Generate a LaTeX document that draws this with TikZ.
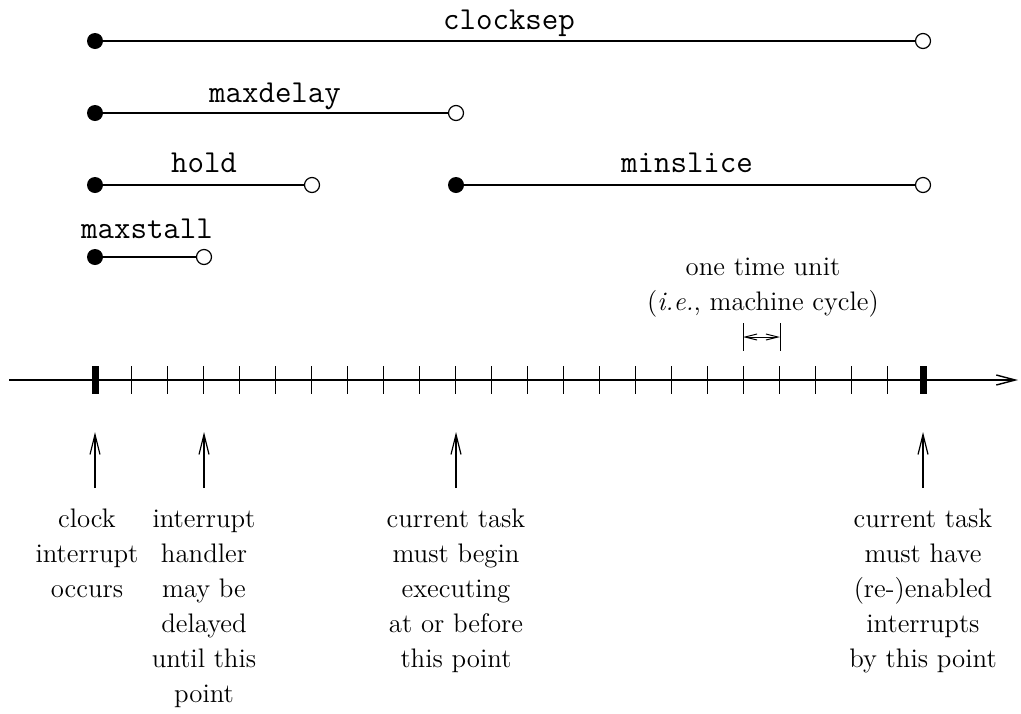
\documentclass[tikz,border=0pt]{standalone}
\usetikzlibrary{arrows.meta}
\begin{document}
\begin{tikzpicture}[x=0.5pt,y=-0.5pt,
  startdot/.style={circle,fill=black,inner sep=0pt,minimum size=8pt},
  enddot/.style={circle,draw=black,fill=white,line width=0.6pt,inner sep=0pt,minimum size=7.5pt},
  span/.style={line width=0.9pt},
  param/.style={font=\fontsize{16}{18}\selectfont\ttfamily,anchor=base,inner sep=0pt},
  note/.style={font=\fontsize{13.4}{17.5}\selectfont,align=center,anchor=base,inner sep=0pt},
  axisline/.style={line width=0.7pt,-{Straight Barb[length=9.5pt,width=5pt]}},
  tickmark/.style={line width=0.45pt},
  majortick/.style={line width=3.5pt},
  pointer/.style={line width=0.6pt,-{Straight Barb[length=10pt,width=5pt]}},
  unitarrow/.style={line width=0.5pt,{Straight Barb[length=6pt,width=3pt]}-{Straight Barb[length=6pt,width=3pt]}},
]
\useasboundingbox (0,0) rectangle (1021,713);

% parameter intervals
\node[startdot] (cs0) at (95,41) {};
\node[enddot]   (cs1) at (923,41) {};
\draw[span] (cs0) -- (cs1);
\node[param] (csl) at (509,29) {clocksep};

\node[startdot] (md0) at (95,113) {};
\node[enddot]   (md1) at (456,113) {};
\draw[span] (md0) -- (md1);
\node[param] (mdl) at (275,102) {maxdelay};

\node[startdot] (ho0) at (95,185) {};
\node[enddot]   (ho1) at (312,185) {};
\draw[span] (ho0) -- (ho1);
\node[param] (hol) at (204,172) {hold};

\node[startdot] (ms0) at (456,185) {};
\node[enddot]   (ms1) at (923,185) {};
\draw[span] (ms0) -- (ms1);
\node[param] (msl) at (687,172) {minslice};

\node[startdot] (st0) at (95,257) {};
\node[enddot]   (st1) at (204,257) {};
\draw[span] (st0) -- (st1);
\node[param] (stl) at (147,238) {maxstall};

% time axis
\coordinate (axL) at (9,380);
\coordinate (axR) at (1018,380);
\draw[axisline] (axL) -- (axR);
\foreach \k in {1,...,22} \draw[tickmark] (95+36*\k,366) -- (95+36*\k,394);
\draw[majortick] (95,366) -- (95,394);
\draw[majortick] (923,366) -- (923,394);

% one time unit (the base anchor sits on the last line)
\node[note] (unit) at (763,310) {one time unit\\(\textit{i.e.}, machine cycle)};
\draw[tickmark] (743,323) -- (743,351);
\draw[tickmark] (780,323) -- (780,351);
\coordinate (u0) at (743,337);
\coordinate (u1) at (780,337);
\draw[unitarrow] (u0) -- (u1);

% pointers to events on the axis
\coordinate (a1b) at (95,488);  \coordinate (a1t) at (95,432);
\coordinate (a2b) at (204,488); \coordinate (a2t) at (204,432);
\coordinate (a3b) at (456,488); \coordinate (a3t) at (456,432);
\coordinate (a4b) at (923,488); \coordinate (a4t) at (923,432);
\draw[pointer] (a1b) -- (a1t);
\draw[pointer] (a2b) -- (a2t);
\draw[pointer] (a3b) -- (a3t);
\draw[pointer] (a4b) -- (a4t);

% event descriptions (base anchor on the last line)
\node[note] (n1) at (87,597) {clock\\interrupt\\occurs};
\node[note] (n2) at (204,702) {interrupt\\handler\\may be\\delayed\\until this\\point};
\node[note] (n3) at (456,667) {current task\\must begin\\executing\\at or before\\this point};
\node[note] (n4) at (923,667) {current task\\must have\\(re-)enabled\\interrupts\\by this point};
\end{tikzpicture}
\end{document}
